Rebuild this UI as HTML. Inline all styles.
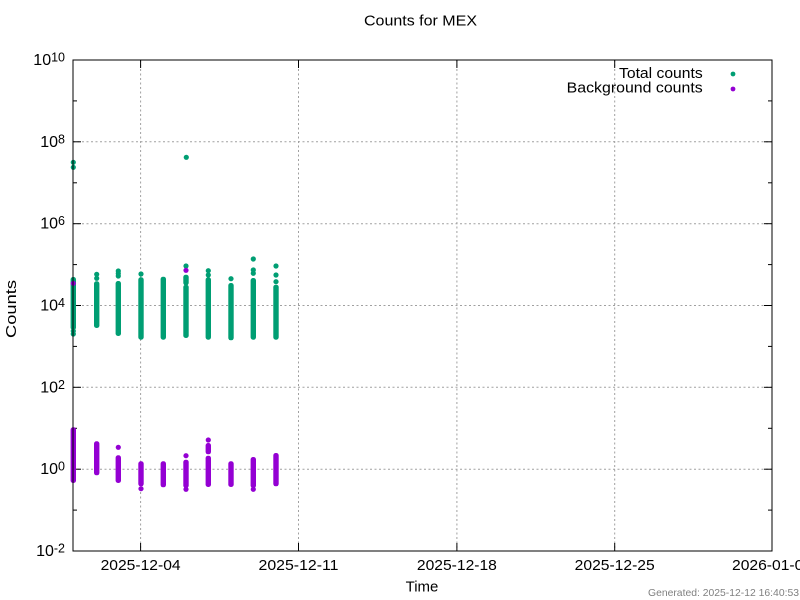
<!DOCTYPE html>
<html><head><meta charset="utf-8"><style>
html,body{margin:0;padding:0;background:#fff;}
svg{display:block;}
text{font-family:"Liberation Sans",Arial,sans-serif;fill:#000;}
</style></head><body>
<svg width="800" height="600" viewBox="0 0 800 600" xmlns="http://www.w3.org/2000/svg">
<rect width="800" height="600" fill="#fff"/>
<!-- grid -->
<g stroke="#a0a0a0" stroke-width="1" stroke-dasharray="2,2.5" fill="none">
<line x1="140.6" y1="60" x2="140.6" y2="551"/>
<line x1="298.5" y1="60" x2="298.5" y2="551"/>
<line x1="456.9" y1="60" x2="456.9" y2="551"/>
<line x1="614.7" y1="60" x2="614.7" y2="551"/>
<line x1="73" y1="141.8" x2="772" y2="141.8"/>
<line x1="73" y1="223.7" x2="772" y2="223.7"/>
<line x1="73" y1="305.5" x2="772" y2="305.5"/>
<line x1="73" y1="387.3" x2="772" y2="387.3"/>
<line x1="73" y1="469.2" x2="772" y2="469.2"/>
</g>
<!-- ticks -->
<g stroke="#000" stroke-width="1">
<line x1="73" y1="141.8" x2="81" y2="141.8"/><line x1="772" y1="141.8" x2="764" y2="141.8"/>
<line x1="73" y1="223.7" x2="81" y2="223.7"/><line x1="772" y1="223.7" x2="764" y2="223.7"/>
<line x1="73" y1="305.5" x2="81" y2="305.5"/><line x1="772" y1="305.5" x2="764" y2="305.5"/>
<line x1="73" y1="387.3" x2="81" y2="387.3"/><line x1="772" y1="387.3" x2="764" y2="387.3"/>
<line x1="73" y1="469.2" x2="81" y2="469.2"/><line x1="772" y1="469.2" x2="764" y2="469.2"/>
<line x1="73" y1="100.9" x2="77" y2="100.9"/><line x1="772" y1="100.9" x2="768" y2="100.9"/>
<line x1="73" y1="182.8" x2="77" y2="182.8"/><line x1="772" y1="182.8" x2="768" y2="182.8"/>
<line x1="73" y1="264.6" x2="77" y2="264.6"/><line x1="772" y1="264.6" x2="768" y2="264.6"/>
<line x1="73" y1="346.4" x2="77" y2="346.4"/><line x1="772" y1="346.4" x2="768" y2="346.4"/>
<line x1="73" y1="428.3" x2="77" y2="428.3"/><line x1="772" y1="428.3" x2="768" y2="428.3"/>
<line x1="73" y1="510.1" x2="77" y2="510.1"/><line x1="772" y1="510.1" x2="768" y2="510.1"/>
<line x1="140.6" y1="551" x2="140.6" y2="543"/><line x1="140.6" y1="60" x2="140.6" y2="68"/>
<line x1="298.5" y1="551" x2="298.5" y2="543"/><line x1="298.5" y1="60" x2="298.5" y2="68"/>
<line x1="456.9" y1="551" x2="456.9" y2="543"/><line x1="456.9" y1="60" x2="456.9" y2="68"/>
<line x1="614.7" y1="551" x2="614.7" y2="543"/><line x1="614.7" y1="60" x2="614.7" y2="68"/>
</g>
<!-- green (total counts) -->
<g fill="#009e73">
<rect x="70.6" y="277" width="5.4" height="53" rx="2.4"/>
<circle cx="73.3" cy="331" r="2.6"/><circle cx="73.3" cy="334" r="2.6"/>
<circle cx="73.3" cy="162.3" r="2.6"/><circle cx="73.3" cy="167.3" r="2.6"/>
<rect x="94" y="281.3" width="5.4" height="46.7" rx="2.4"/>
<circle cx="96.7" cy="274.3" r="2.6"/><circle cx="96.7" cy="278.3" r="2.6"/>
<rect x="115.6" y="281" width="5.4" height="55" rx="2.4"/>
<circle cx="118.3" cy="271" r="2.6"/><circle cx="118.3" cy="273.5" r="2.6"/><circle cx="118.3" cy="276" r="2.6"/>
<rect x="138.3" y="277.3" width="5.4" height="62.4" rx="2.4"/>
<circle cx="141" cy="274" r="2.6"/>
<rect x="160.6" y="276.7" width="5.4" height="63" rx="2.4"/>
<rect x="183.3" y="274.7" width="5.4" height="10.6" rx="2.4"/>
<rect x="183.3" y="284.7" width="5.4" height="53.3" rx="2.4"/>
<circle cx="186" cy="266" r="2.6"/>
<circle cx="186.3" cy="157.3" r="2.6"/>
<rect x="205.6" y="277.3" width="5.4" height="62.4" rx="2.4"/>
<circle cx="208.3" cy="270.7" r="2.6"/><circle cx="208.3" cy="275" r="2.6"/>
<rect x="228.3" y="283" width="5.4" height="57.3" rx="2.4"/>
<circle cx="231" cy="278.7" r="2.6"/>
<rect x="250.6" y="278" width="5.4" height="61.7" rx="2.4"/>
<circle cx="253.3" cy="259" r="2.6"/><circle cx="253.3" cy="270" r="2.6"/><circle cx="253.3" cy="273.3" r="2.6"/>
<rect x="273.3" y="284.7" width="5.4" height="55" rx="2.4"/>
<circle cx="276" cy="266" r="2.6"/><circle cx="276" cy="275" r="2.6"/><circle cx="276" cy="281.7" r="2.6"/>
</g>
<!-- purple (background counts) -->
<g fill="#9400d3">
<rect x="70.6" y="427.3" width="5.4" height="55.7" rx="2.4"/>
<circle cx="73.3" cy="283.3" r="2.6"/>
<rect x="94" y="441.3" width="5.4" height="34" rx="2.4"/>
<circle cx="118.3" cy="447.3" r="2.6"/>
<rect x="115.6" y="455.3" width="5.4" height="27.7" rx="2.4"/>
<rect x="138.3" y="461.3" width="5.4" height="25" rx="2.4"/>
<circle cx="141" cy="488.7" r="2.6"/>
<rect x="160.6" y="461.3" width="5.4" height="26" rx="2.4"/>
<circle cx="186" cy="455.7" r="2.6"/>
<rect x="183.3" y="459.7" width="5.4" height="28.3" rx="2.4"/>
<circle cx="186" cy="489.3" r="2.6"/>
<circle cx="186" cy="270.3" r="2.6"/>
<circle cx="208.3" cy="440" r="2.6"/>
<rect x="205.6" y="443" width="5.4" height="11.3" rx="2.4"/>
<rect x="205.6" y="455.7" width="5.4" height="31.3" rx="2.4"/>
<rect x="228.3" y="461.3" width="5.4" height="25.7" rx="2.4"/>
<rect x="250.6" y="457" width="5.4" height="31" rx="2.4"/>
<circle cx="253.3" cy="489.3" r="2.6"/>
<rect x="273.3" y="453" width="5.4" height="33.3" rx="2.4"/>
</g>
<!-- border -->
<rect x="73" y="60" width="699" height="491" fill="none" stroke="#000" stroke-width="1"/>
<!-- y tick labels -->
<g font-size="16" text-anchor="end">
<text x="65" y="65">10<tspan font-size="12.5" dy="-3.5">10</tspan></text>
<text x="65" y="146.8">10<tspan font-size="12.5" dy="-3.5">8</tspan></text>
<text x="65" y="228.7">10<tspan font-size="12.5" dy="-3.5">6</tspan></text>
<text x="65" y="310.5">10<tspan font-size="12.5" dy="-3.5">4</tspan></text>
<text x="65" y="392.3">10<tspan font-size="12.5" dy="-3.5">2</tspan></text>
<text x="65" y="474.2">10<tspan font-size="12.5" dy="-3.5">0</tspan></text>
<text x="65" y="556">10<tspan font-size="12.5" dy="-3.5">-2</tspan></text>
</g>
<!-- x tick labels -->
<g font-size="15" text-anchor="middle">
<text x="140.6" y="570" textLength="80" lengthAdjust="spacingAndGlyphs">2025-12-04</text>
<text x="298.5" y="570" textLength="80" lengthAdjust="spacingAndGlyphs">2025-12-11</text>
<text x="456.9" y="570" textLength="80" lengthAdjust="spacingAndGlyphs">2025-12-18</text>
<text x="614.7" y="570" textLength="80" lengthAdjust="spacingAndGlyphs">2025-12-25</text>
<text x="772" y="570" textLength="80" lengthAdjust="spacingAndGlyphs">2026-01-01</text>
</g>
<!-- titles -->
<text x="420.5" y="25.7" font-size="15" text-anchor="middle" textLength="113" lengthAdjust="spacingAndGlyphs">Counts for MEX</text>
<text x="422" y="591.7" font-size="15" text-anchor="middle">Time</text>
<text transform="translate(16,309) rotate(-90)" font-size="15" text-anchor="middle" textLength="58" lengthAdjust="spacingAndGlyphs">Counts</text>
<!-- legend -->
<text x="702.7" y="78" font-size="15" text-anchor="end" textLength="83.7" lengthAdjust="spacingAndGlyphs">Total counts</text>
<text x="702.7" y="92.7" font-size="15" text-anchor="end" textLength="136" lengthAdjust="spacingAndGlyphs">Background counts</text>
<circle cx="733" cy="74" r="2.4" fill="#009e73"/>
<circle cx="733" cy="89" r="2.4" fill="#9400d3"/>
<!-- generated -->
<text x="799" y="596" font-size="10.4" fill="#808080" style="fill:#808080" text-anchor="end" textLength="151" lengthAdjust="spacingAndGlyphs">Generated: 2025-12-12 16:40:53</text>
</svg>
</body></html>
